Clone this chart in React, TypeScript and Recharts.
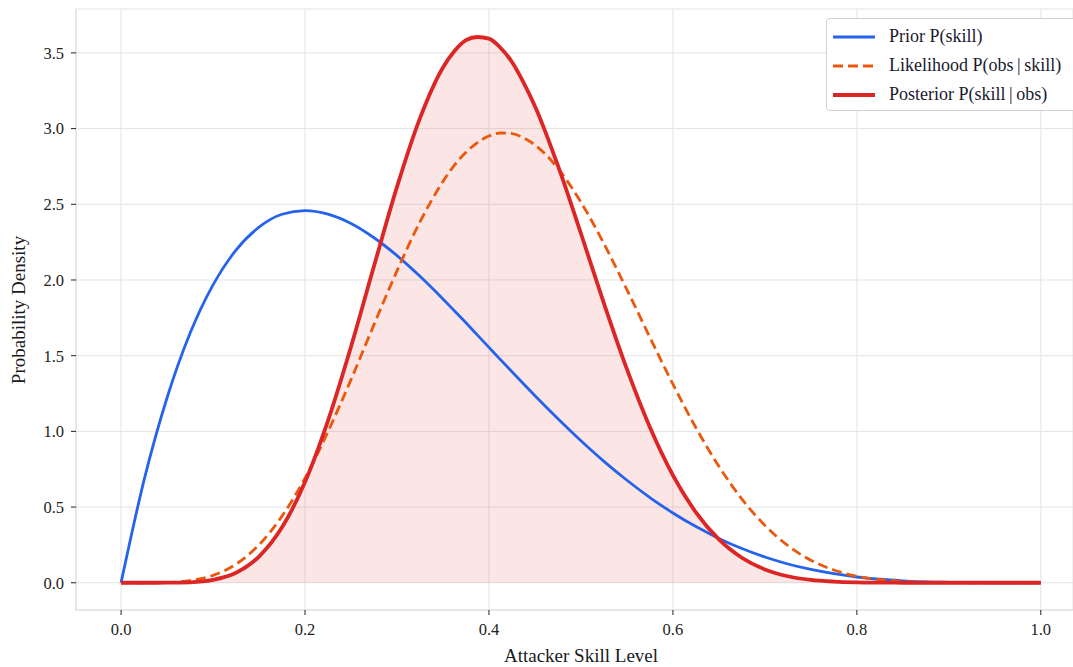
import React from "react";
import {
  ComposedChart,
  Line,
  Area,
  XAxis,
  YAxis,
  CartesianGrid,
} from "recharts";

const skill = [
  0, 0.025, 0.05, 0.075, 0.1, 0.125, 0.15, 0.175, 0.2, 0.225, 0.25, 0.275, 0.3,
  0.325, 0.35, 0.3625, 0.375, 0.3875, 0.4, 0.4125, 0.425, 0.4375, 0.45, 0.475,
  0.5, 0.525, 0.55, 0.575, 0.6, 0.625, 0.65, 0.675, 0.7, 0.725, 0.75, 0.775,
  0.8, 0.825, 0.85, 0.875, 0.9, 0.925, 0.95, 0.975, 1.0,
];

const prior = [
  0, 0.678, 1.222, 1.648, 1.968, 2.198, 2.349, 2.434, 2.458, 2.435, 2.373,
  2.279, 2.161, 2.024, 1.874, 1.796, 1.717, 1.636, 1.555, 1.474, 1.394, 1.314,
  1.235, 1.083, 0.938, 0.802, 0.677, 0.563, 0.461, 0.371, 0.293, 0.226, 0.17,
  0.124, 0.088, 0.06, 0.038, 0.023, 0.013, 0.006, 0.003, 0.001, 0, 0, 0,
];

const likelihood = [
  0, 0.0001, 0.002, 0.014, 0.049, 0.123, 0.251, 0.44, 0.691, 0.998, 1.342,
  1.705, 2.06, 2.384, 2.651, 2.759, 2.844, 2.908, 2.951, 2.971, 2.967, 2.94,
  2.892, 2.737, 2.514, 2.24, 1.936, 1.621, 1.312, 1.024, 0.769, 0.553, 0.379,
  0.245, 0.149, 0.084, 0.043, 0.02, 0.008, 0.003, 0.001, 0, 0, 0, 0,
];

const posterior = [
  0, 0, 0.0003, 0.003, 0.019, 0.066, 0.173, 0.366, 0.665, 1.071, 1.559, 2.092,
  2.615, 3.069, 3.404, 3.512, 3.584, 3.605, 3.594, 3.534, 3.44, 3.306, 3.148,
  2.755, 2.307, 1.846, 1.411, 1.027, 0.71, 0.465, 0.286, 0.165, 0.088, 0.043,
  0.019, 0.008, 0.003, 0.001, 0, 0, 0, 0, 0, 0, 0,
];

const xTicks = [0, 0.2, 0.4, 0.6, 0.8, 1.0];
const yTicks = [0, 0.5, 1.0, 1.5, 2.0, 2.5, 3.0, 3.5];

const legendItems = [
  { name: "Prior P(skill)", color: "#2563eb", width: 2.8, dash: undefined },
  { name: "Likelihood P(obs\u2009|\u2009skill)", color: "#ea580c", width: 2.8, dash: "10 5" },
  { name: "Posterior P(skill\u2009|\u2009obs)", color: "#dc2626", width: 3.8, dash: undefined },
];

const data = skill.map((x, i) => ({
  x,
  prior: prior[i],
  likelihood: likelihood[i],
  posterior: posterior[i],
}));

const FONT = "'Liberation Serif', 'Times New Roman', serif";
const FRAME = "#d6dde7";
const GRID = "#e4e4e4";

function LegendBox() {
  return (
    <div
      style={{
        position: "absolute",
        left: 826,
        top: 18,
        background: "rgba(255,255,255,0.95)",
        border: "1px solid #d0d0d0",
        borderRadius: 4,
        width: 260,
        height: 93,
        boxSizing: "border-box",
        fontFamily: FONT,
        fontSize: 18,
        color: "#1a1a2e",
      }}
    >
      {legendItems.map((it, i) => (
        <div
          key={i}
          style={{
            display: "flex",
            alignItems: "center",
            height: 29,
            marginTop: i === 0 ? 3 : 0,
          }}
        >
          <svg width={62} height={12} style={{ flex: "none" }}>
            <line
              x1={6}
              x2={48}
              y1={6}
              y2={6}
              stroke={it.color}
              strokeWidth={it.width}
              strokeDasharray={it.dash}
            />
          </svg>
          <span>{it.name}</span>
        </div>
      ))}
    </div>
  );
}

export default function App() {
  return (
    <div
      style={{
        position: "absolute",
        left: 0,
        top: 0,
        width: 1073,
        height: 667,
        overflow: "hidden",
        background: "#fff",
      }}
    >
      <ComposedChart
        width={1073}
        height={667}
        data={data}
        margin={{ top: 9, right: 0, bottom: 0, left: 0 }}
      >
        <CartesianGrid stroke={GRID} strokeWidth={1} />
        <XAxis
          dataKey="x"
          type="number"
          domain={[-0.049, 1.035]}
          allowDataOverflow
          ticks={xTicks}
          tickFormatter={(v: number) => v.toFixed(1)}
          height={57}
          stroke={FRAME}
          tickLine={{ stroke: "#222" }}
          tickSize={5}
          tickMargin={8}
          tick={{ fill: "#222", fontFamily: FONT, fontSize: 16.5 }}
          label={{
            content: () => (
              <text
                x={581}
                y={662}
                textAnchor="middle"
                fontFamily={FONT}
                fontSize={19}
                fill="#1a1a1a"
              >
                Attacker Skill Level
              </text>
            ),
          }}
        />
        <XAxis
          xAxisId="top"
          orientation="top"
          dataKey="x"
          type="number"
          domain={[-0.049, 1.035]}
          allowDataOverflow
          height={0}
          tick={false}
          tickLine={false}
          stroke={FRAME}
        />
        <YAxis
          type="number"
          domain={[-0.18, 3.79]}
          allowDataOverflow
          ticks={yTicks}
          tickFormatter={(v: number) => v.toFixed(1)}
          width={76}
          stroke={FRAME}
          tickLine={{ stroke: "#222" }}
          tickSize={5}
          tickMargin={7}
          tick={{ fill: "#222", fontFamily: FONT, fontSize: 16.5 }}
          label={{
            content: () => (
              <text
                x={25}
                y={310}
                transform="rotate(-90 25 310)"
                textAnchor="middle"
                fontFamily={FONT}
                fontSize={19}
                fill="#1a1a1a"
              >
                Probability Density
              </text>
            ),
          }}
        />
        <Area
          dataKey="posterior"
          type="monotone"
          baseValue={0}
          stroke="none"
          fill="#dc2626"
          fillOpacity={0.12}
          isAnimationActive={false}
          legendType="none"
        />
        <Line
          dataKey="prior"
          type="monotone"
          stroke="#2563eb"
          strokeWidth={2.8}
          dot={false}
          isAnimationActive={false}
        />
        <Line
          dataKey="likelihood"
          type="monotone"
          stroke="#ea580c"
          strokeWidth={2.8}
          strokeDasharray="10 5"
          dot={false}
          isAnimationActive={false}
        />
        <Line
          dataKey="posterior"
          type="monotone"
          stroke="#dc2626"
          strokeWidth={3.8}
          dot={false}
          isAnimationActive={false}
        />
      </ComposedChart>
      <LegendBox />
    </div>
  );
}
